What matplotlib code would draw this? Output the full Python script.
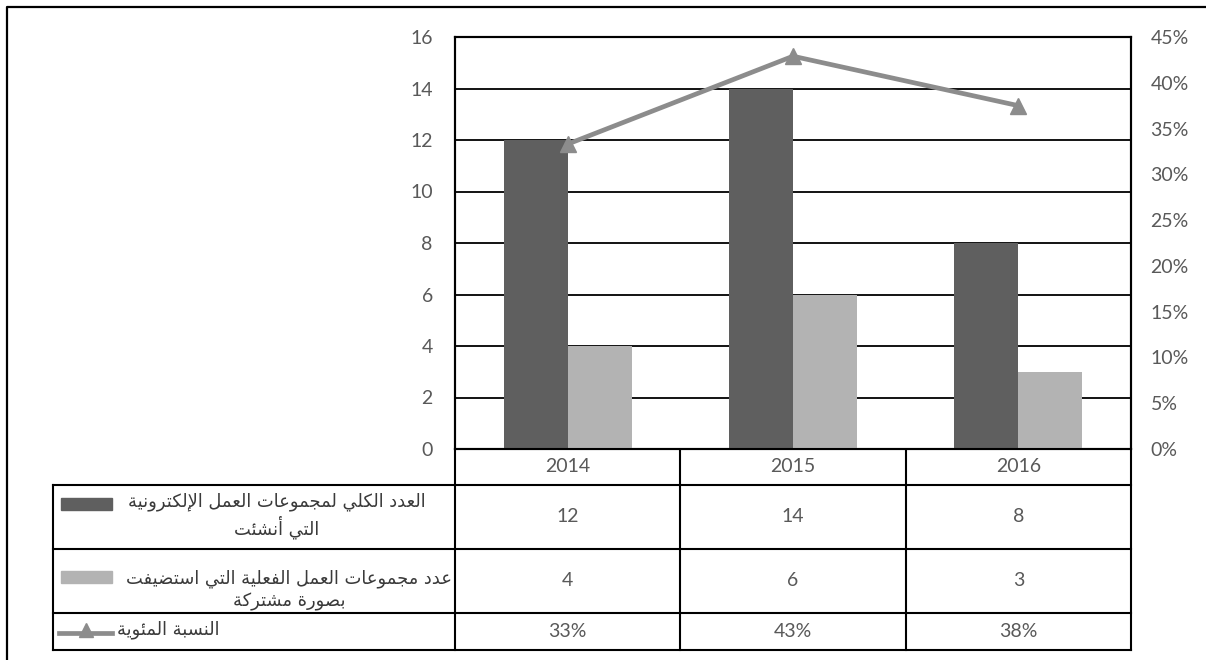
import numpy as np
import matplotlib
matplotlib.use('Agg')
import matplotlib.pyplot as plt
from matplotlib.transforms import blended_transform_factory
from matplotlib.patches import Rectangle
from matplotlib.lines import Line2D

# === Daten ===
years = ['2014', '2015', '2016']
total_groups = [12, 14, 8]
shared_groups = [4, 6, 3]
share_pct = [33.3, 42.9, 37.5]
share_labels = ['33%', '43%', '38%']
row_labels = [
    'العدد الكلي لمجموعات العمل الإلكترونية\nالتي أنشئت',
    'عدد مجموعات العمل الفعلية التي استضيفت\nبصورة مشتركة',
    'النسبة المئوية',
]
left_ticks = list(range(0, 17, 2))
right_ticks = list(range(0, 46, 5))

DARK = '#5f5f5f'
LIGHT = '#b3b3b3'
LINE = '#8c8c8c'
TXT = '#595959'

# --- einfache arabische Glyphenformung (matplotlib kann das nicht selbst) ---
AR_LETTERS = 'ءآأؤإئابةتثجحخدذرزسشصضطظعغفقكلمنهوىي'
AR_NFORMS = [1, 2, 2, 2, 2, 4, 2, 4, 2, 4, 4, 4, 4, 4, 2, 2, 2, 2,
             4, 4, 4, 4, 4, 4, 4, 4, 4, 4, 4, 4, 4, 4, 4, 2, 2, 4]
FORMS = {}
_code = 0xFE80
for _ch, _n in zip(AR_LETTERS, AR_NFORMS):
    FORMS[_ch] = [chr(_code + k) for k in range(_n)]  # iso, fin, ini, med
    _code += _n
LAM_ALEF = {'آ': 0xFEF5, 'أ': 0xFEF7, 'إ': 0xFEF9, 'ا': 0xFEFB}


def shape_line(line):
    out = []
    i = 0
    prev_joins = False
    while i < len(line):
        ch = line[i]
        if ch not in FORMS:
            out.append(ch)
            prev_joins = False
            i += 1
            continue
        if ch == 'ل' and i + 1 < len(line) and line[i + 1] in LAM_ALEF:
            out.append(chr(LAM_ALEF[line[i + 1]] + (1 if prev_joins else 0)))
            prev_joins = False
            i += 2
            continue
        f = FORMS[ch]
        nxt = line[i + 1] if i + 1 < len(line) else ''
        joins_next = len(f) == 4 and nxt in FORMS and len(FORMS[nxt]) > 1
        joins_prev = prev_joins and len(f) > 1
        if joins_prev and joins_next:
            g = f[3]
        elif joins_next:
            g = f[2]
        elif joins_prev:
            g = f[1]
        else:
            g = f[0]
        out.append(g)
        prev_joins = joins_next
        i += 1
    return ''.join(reversed(out))


def ar(text):
    return '\n'.join(shape_line(l) for l in text.split('\n'))


plt.rcParams['font.family'] = ['Lato', 'DejaVu Sans']

W, H = 1206, 660
fig = plt.figure(figsize=(W / 100, H / 100), dpi=100)

# Overlay in Pixelkoordinaten fuer Rahmen und Tabelle
over = fig.add_axes([0, 0, 1, 1])
over.set_xlim(0, W)
over.set_ylim(H, 0)
over.axis('off')

ax = fig.add_axes([455 / W, 1 - 449 / H, (1131 - 455) / W, (449 - 37) / H])
ax2 = ax.twinx()

x = np.arange(len(years))
bw = 0.284
ax.bar(x - bw / 2, total_groups, bw, color=DARK, zorder=3)
ax.bar(x + bw / 2, shared_groups, bw, color=LIGHT, zorder=3)
ax.set_xlim(-0.5, len(years) - 0.5)
ax.set_ylim(0, 16)
ax.set_yticks(left_ticks)
ax.set_xticks([])
ax.yaxis.grid(True, color='black', lw=1.3)
ax.set_axisbelow(True)
ax.tick_params(axis='y', length=0, pad=16, labelsize=14, labelcolor=TXT)

ax2.plot(x, share_pct, color=LINE, lw=3.4, marker='^', ms=11, zorder=4)
ax2.set_ylim(0, 45)
ax2.set_yticks(right_ticks)
ax2.set_yticklabels([f'{v}%' for v in right_ticks])
ax2.tick_params(axis='y', length=0, pad=14, labelsize=14, labelcolor=TXT)

for a in (ax, ax2):
    for s in a.spines.values():
        s.set_color('black')
        s.set_linewidth(1.5)

# --- Datentabelle ---
tr = blended_transform_factory(ax.transData, over.transData)
lw = 1.5
row_edges = [485, 549, 613, 650]
head_y = 467

for i, yr in enumerate(years):
    over.text(x[i], head_y, yr, transform=tr, ha='center', va='center',
              fontsize=14, color=TXT)

for b in np.arange(-0.5, len(years), 1.0):
    over.plot([b, b], [449, row_edges[-1]], color='black', lw=lw, transform=tr,
              solid_capstyle='projecting')
for ye in row_edges:
    over.plot([53, 1131], [ye, ye], color='black', lw=lw, solid_capstyle='projecting')
over.plot([53, 53], [row_edges[0], row_edges[-1]], color='black', lw=lw,
          solid_capstyle='projecting')

row_values = [total_groups, shared_groups, share_labels]
for r, vals in enumerate(row_values):
    yc = (row_edges[r] + row_edges[r + 1]) / 2
    for i, v in enumerate(vals):
        over.text(x[i], yc, str(v), transform=tr, ha='center', va='center',
                  fontsize=14, color=TXT)

# Zeilenbeschriftungen mit Legendensymbolen
ar_font = dict(family=['DejaVu Sans'], fontsize=12.9, color='#3a3a3a')
over.text(277, 516, ar(row_labels[0]), ha='center', va='center',
          multialignment='center', linespacing=1.25, **ar_font)
over.add_patch(Rectangle((61, 498), 51, 12, color=DARK))
over.text(289, 590, ar(row_labels[1]), ha='center', va='center',
          multialignment='center', linespacing=1.3, **ar_font)
over.add_patch(Rectangle((61, 571), 51, 12, color=LIGHT))
over.text(117, 630, ar(row_labels[2]), ha='left', va='center', **ar_font)
over.add_line(Line2D([59, 112], [633, 633], color=LINE, lw=3.4))
over.add_line(Line2D([86], [630], color=LINE, marker='^', ms=10, lw=0))

# Aeusserer Rahmen
over.plot([7, 7, W], [H, 7, 7], color='black', lw=1.6)

fig.savefig('out.png', dpi=100)
